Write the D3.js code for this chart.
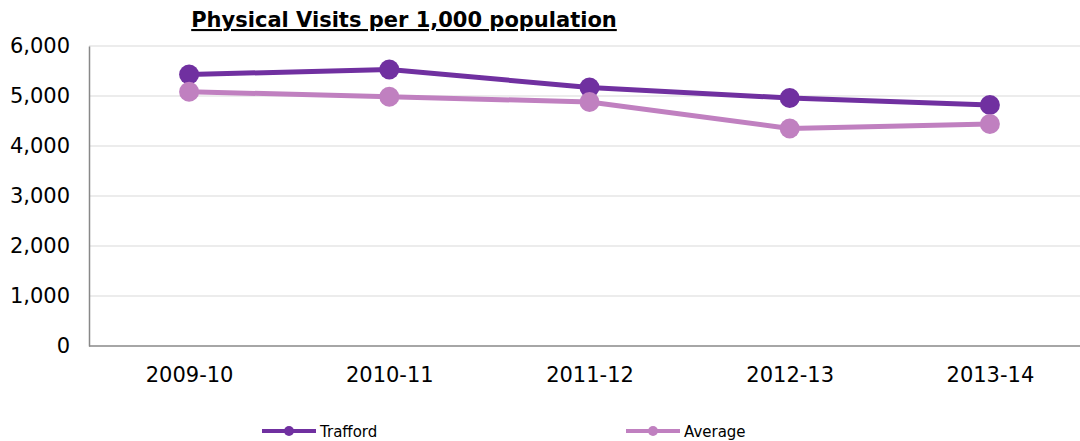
<!DOCTYPE html>
<html><head><meta charset="utf-8">
<script src="https://cdn.jsdelivr.net/npm/d3@7"></script>
<style>body{margin:0;background:#fff}svg{display:block}</style>
</head><body><svg id="c" width="1080" height="441"></svg>
<script>
const categories = ["2009-10","2010-11","2011-12","2012-13","2013-14"];
const trafford = [5430, 5530, 5170, 4960, 4820];
const average = [5085, 4985, 4880, 4350, 4440];
const yTicks = [0,1000,2000,3000,4000,5000,6000];
const seriesNames = ["Trafford","Average"];
const colors = ["#7030A0","#C080C0"];

(function(){
const svg = d3.select("#c");
const mL = 89, mR = 1080, mT = 46, mB = 346;
const x = d3.scalePoint().domain(categories).range([mL, 1090]).padding(0.5);
const y = d3.scaleLinear().domain([0,6000]).range([mB, mT]);
const font = "Verdana, 'DejaVu Sans', sans-serif";

// gridlines
svg.append("g").selectAll("line").data(yTicks.filter(d=>d>0)).join("line")
  .attr("x1", mL).attr("x2", mR).attr("y1", d=>y(d)).attr("y2", d=>y(d))
  .attr("stroke", "#d9d9d9").attr("stroke-width", 1);

// y axis
const ya = svg.append("g").attr("transform", `translate(${mL},0)`)
  .call(d3.axisLeft(y).tickValues(yTicks).tickFormat(d3.format(",")).tickSize(0).tickPadding(19));
ya.select(".domain").attr("stroke", "#888").attr("stroke-width", 1.5);
ya.selectAll("text").attr("font-family", font).attr("font-size", 21).attr("fill", "#000");

// x axis
const xa = svg.append("g").attr("transform", `translate(0,${mB})`)
  .call(d3.axisBottom(x).tickSize(0).tickPadding(21));
xa.select(".domain").attr("d", `M${mL},0H${mR}`).attr("stroke", "#888").attr("stroke-width", 1.5);
xa.selectAll("text").attr("font-family", font).attr("font-size", 21).attr("fill", "#000");

// series
const data = [trafford, average];
data.forEach((vals, i) => {
  const pts = vals.map((v, j) => [x(categories[j]), y(v)]);
  svg.append("path").attr("d", d3.line()(pts)).attr("fill", "none")
    .attr("stroke", colors[i]).attr("stroke-width", 5).attr("stroke-linejoin", "round");
  svg.append("g").selectAll("circle").data(pts).join("circle")
    .attr("cx", d=>d[0]).attr("cy", d=>d[1]).attr("r", 10).attr("fill", colors[i]);
});

// title
svg.append("text").attr("x", 404).attr("y", 27).attr("text-anchor", "middle")
  .attr("font-family", font).attr("font-weight", "bold").attr("font-size", 21)
  .attr("text-decoration", "underline").text("Physical Visits per 1,000 population");

// legend
const legX = [262, 626];
seriesNames.forEach((n, i) => {
  const g = svg.append("g").attr("transform", `translate(${legX[i]},431)`);
  g.append("line").attr("x1", 0).attr("x2", 54).attr("stroke", colors[i]).attr("stroke-width", 4);
  g.append("circle").attr("cx", 27).attr("r", 5).attr("fill", colors[i]);
  g.append("text").attr("x", 58).attr("y", 6).attr("font-family", font).attr("font-size", 15)
    .attr("fill", "#000").text(n);
});
})();
</script></body></html>
